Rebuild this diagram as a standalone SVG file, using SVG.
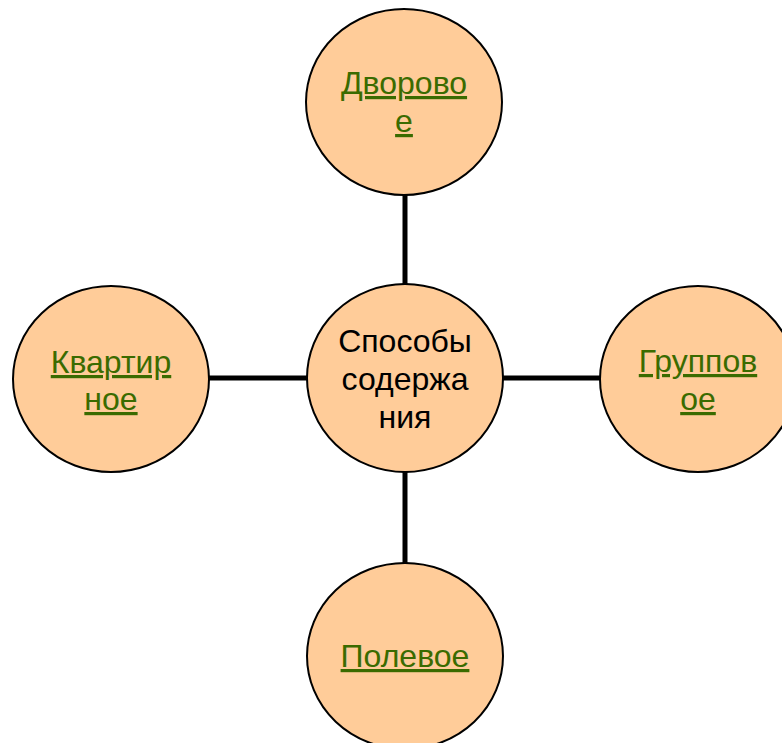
<svg xmlns="http://www.w3.org/2000/svg" width="782" height="743" viewBox="0 0 782 743">
<style>
.node ellipse{fill:#FFCC99;stroke:#000;stroke-width:2}
.conn line{stroke:#000;stroke-width:5}
text{font-family:"Liberation Sans",Arial,sans-serif;font-size:32px;text-anchor:middle}
.link{fill:#3a6b00;text-decoration:underline}
.main{fill:#000}
</style>
<rect width="782" height="743" fill="#fff"/>
<g id="connectors" class="conn">
<line x1="405" y1="190" x2="405" y2="290"/>
<line x1="405" y1="466" x2="405" y2="568"/>
<line x1="205" y1="378" x2="312" y2="378"/>
<line x1="498" y1="378" x2="606" y2="378"/>
</g>
<g id="center" class="node">
<ellipse cx="405" cy="378" rx="98" ry="94"/>
<text class="main" x="405" y="352">Способы</text>
<text class="main" x="405" y="390">содержа</text>
<text class="main" x="405" y="428">ния</text>
</g>
<g id="top" class="node">
<ellipse cx="404" cy="102" rx="98" ry="93"/>
<text class="link" x="404" y="94">Дворово</text>
<text class="link" x="404" y="132">е</text>
</g>
<g id="left" class="node">
<ellipse cx="111" cy="379" rx="98" ry="93"/>
<text class="link" x="111" y="373">Квартир</text>
<text class="link" x="111" y="410">ное</text>
</g>
<g id="right" class="node">
<ellipse cx="698" cy="379" rx="98" ry="93"/>
<text class="link" x="698" y="372">Группов</text>
<text class="link" x="698" y="410">ое</text>
</g>
<g id="bottom" class="node">
<ellipse cx="405" cy="656" rx="98" ry="93"/>
<text class="link" x="405" y="667">Полевое</text>
</g>
</svg>
